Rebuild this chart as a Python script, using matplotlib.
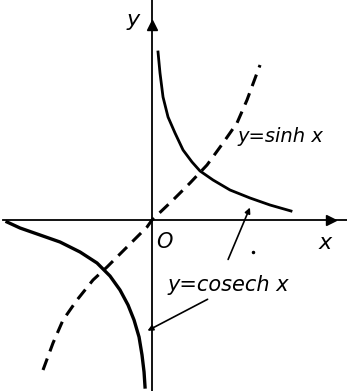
import matplotlib.pyplot as plt

# points (x, y in graph units)
sinh_x = [-1.982, -1.8, -1.618, -1.364, -1.073, -0.818, -0.455, -0.091, 0.0,
          0.382, 0.691, 1.0, 1.291, 1.545, 1.727, 1.909, 1.964]
sinh_y = [-3.0, -2.46, -2.0, -1.6, -1.2, -0.94, -0.54, -0.14, 0.0,
          0.4, 0.74, 1.1, 1.54, 1.94, 2.4, 2.94, 3.1]

csch_pos_x = [0.109, 0.145, 0.2, 0.291, 0.418, 0.564, 0.727, 0.873, 1.109,
              1.418, 1.782, 2.145, 2.527]
csch_pos_y = [3.36, 2.94, 2.46, 2.06, 1.74, 1.40, 1.16, 0.98, 0.80,
              0.60, 0.44, 0.30, 0.18]

csch_neg_x = [-2.636, -2.4, -2.036, -1.673, -1.309, -1.0, -0.764, -0.582,
              -0.436, -0.327, -0.236, -0.182, -0.145, -0.127]
csch_neg_y = [-0.04, -0.16, -0.30, -0.44, -0.64, -0.86, -1.12, -1.40,
              -1.70, -2.0, -2.34, -2.70, -3.04, -3.34]

xlim = (-2.764, 3.545)
ylim = (-3.42, 4.4)
x_arrow = 3.25
y_arrow = 3.9

fig = plt.figure(figsize=(3.47, 3.91), dpi=100)
ax = fig.add_axes([0, 0, 1, 1])
ax.set_xlim(*xlim)
ax.set_ylim(*ylim)
ax.axis('off')

# axes with arrows
ax.axhline(0, xmin=0.01, color='black', lw=1.3)
ax.axvline(0, color='black', lw=1.3)
ax.plot([x_arrow], [0], marker='>', color='black', ms=7)
ax.plot([0], [y_arrow], marker='^', color='black', ms=7)

ax.plot(sinh_x, sinh_y, color='black', lw=2.2, ls=(0, (4, 2.5)))
ax.plot(csch_pos_x, csch_pos_y, color='black', lw=2.0, solid_joinstyle='round')
ax.plot(csch_neg_x, csch_neg_y, color='black', lw=2.4, solid_joinstyle='round')

kw = dict(style='italic', color='black')
ax.text(1.545, 1.66, 'y=sinh x', fontsize=14, va='center', ha='left', **kw)
ax.text(0.29, -1.3, 'y=cosech x', fontsize=15, va='center', ha='left', **kw)
ax.text(0.22, -0.44, 'O', fontsize=15, va='center', ha='center', **kw)
ax.text(3.15, -0.46, 'x', fontsize=16, va='center', ha='center', **kw)
ax.text(-0.345, 4.0, 'y', fontsize=16, va='center', ha='center', **kw)
ax.plot([1.84], [-0.64], 'k.', ms=3)

arrow = dict(arrowstyle='-|>', color='black', lw=1.2, mutation_scale=8)
ax.annotate('', xy=(1.8, 0.3), xytext=(1.364, -0.84), arrowprops=arrow)
ax.annotate('', xy=(-0.127, -2.24), xytext=(1.055, -1.56), arrowprops=arrow)

fig.savefig('out.png', dpi=100)
